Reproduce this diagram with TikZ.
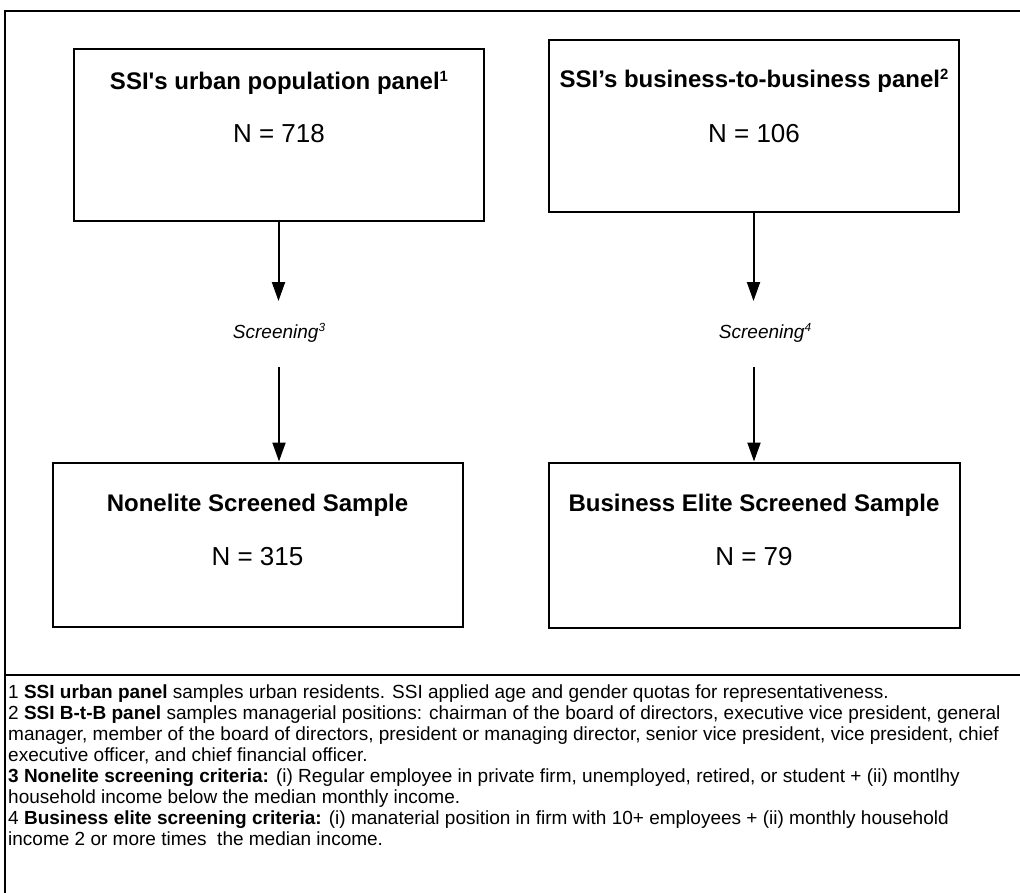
\documentclass[tikz,border=0pt]{standalone}
\usepackage{fontspec}
\newfontfamily\lib{Liberation Sans}
\usetikzlibrary{arrows.meta}
\newcommand{\supnum}[1]{\raisebox{0.33em}{\scalebox{0.62}{#1}}}
\begin{document}
\begin{tikzpicture}[x=1pt,y=-1pt,
  box/.style={draw, line width=2pt, inner sep=0pt},
  ttl/.style={font=\lib\fontsize{24}{28}\selectfont\bfseries, anchor=base, inner sep=0pt},
  num/.style={font=\lib\fontsize{26}{30}\selectfont, anchor=base, inner sep=0pt},
  scr/.style={font=\lib\fontsize{19}{22}\selectfont\itshape, anchor=base, inner sep=0pt},
  arr/.style={line width=2pt, -{Triangle[length=19pt,width=13pt]}},
  note/.style={font=\lib\fontsize{19}{21}\selectfont, anchor=base west, inner sep=0pt},
  frame/.style={line width=2pt}
]
\clip (0,0) rectangle (1020,892);
\fill[white] (0,0) rectangle (1020,892);
% outer frame
\draw[frame] (5,900) -- (5,11) -- (1030,11);
\draw[frame] (5,675) -- (1030,675);
% boxes
\node[box, minimum width=410pt, minimum height=172pt] (b1) at (278.5,134.5) {};
\node[box, minimum width=410pt, minimum height=172pt] (b2) at (753.5,125.5) {};
\node[box, minimum width=410pt, minimum height=164pt] (b3) at (257.5,544.5) {};
\node[box, minimum width=411pt, minimum height=165pt] (b4) at (754,545) {};
% box texts
\node[ttl] (t1) at (279,89) {SSI's urban population panel\supnum{1}};
\node[num] (n1) at (279,142) {N = 718};
\node[ttl] (t2) at (754,87) {SSI’s business-to-business panel\supnum{2}};
\node[num] (n2) at (754,142) {N = 106};
\node[ttl] (t3) at (257.5,511) {Nonelite Screened Sample};
\node[num] (n3) at (257.5,565) {N = 315};
\node[ttl] (t4) at (754,511) {Business Elite Screened Sample};
\node[num] (n4) at (754,565) {N = 79};
% screening labels
\node[scr] (s1) at (279,338) {Screening\supnum{3}};
\node[scr] (s2) at (765,338) {Screening\supnum{4}};
% arrows
\coordinate (tipy) at (0,301);
\coordinate (l2) at (279,367);
\coordinate (r2) at (754,367);
\draw[arr] (b1.south) -- (b1.south |- tipy);
\draw[arr] (b2.south) -- (b2.south |- tipy);
\draw[arr] (l2) -- (l2 |- b3.north);
\draw[arr] (r2) -- (r2 |- b4.north);
% footnotes
\node[note] (f1) at (8,698) {1 \textbf{SSI urban panel} samples urban residents. SSI applied age and gender quotas for representativeness.};
\node[note] (f2) at (8,719) {2 \textbf{SSI B-t-B panel} samples managerial positions: chairman of the board of directors, executive vice president, general};
\node[note] (f3) at (8,740) {manager, member of the board of directors, president or managing director, senior vice president, vice president, chief};
\node[note] (f4) at (8,761) {executive officer, and chief financial officer.};
\node[note] (f5) at (8,782) {\textbf{3 Nonelite screening criteria:} (i) Regular employee in private firm, unemployed, retired, or student + (ii) montlhy};
\node[note] (f6) at (8,803) {household income below the median monthly income.};
\node[note] (f7) at (8,824) {4 \textbf{Business elite screening criteria:} (i) manaterial position in firm with 10+ employees + (ii) monthly household};
\node[note] (f8) at (8,845) {income 2 or more times\ \ the median income.};
\end{tikzpicture}
\end{document}
